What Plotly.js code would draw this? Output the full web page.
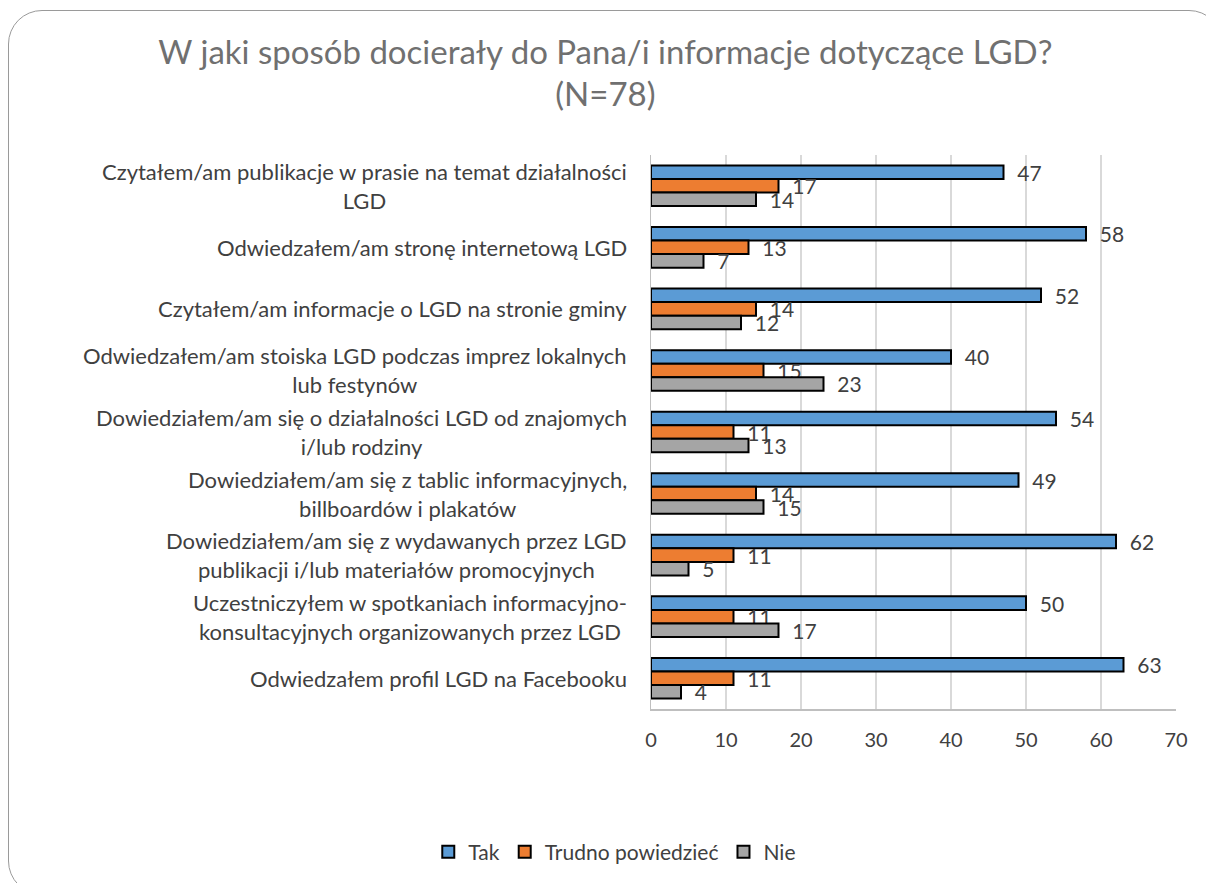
<!DOCTYPE html>
<html>
<head>
<meta charset="utf-8">
<script src="https://cdn.plot.ly/plotly-3.0.1.min.js"></script>
<style>
  html, body { margin: 0; padding: 0; background: #ffffff; }
  #wrap { position: relative; width: 1206px; height: 883px; overflow: hidden; }
  #chart { position: absolute; left: 0; top: 0; width: 1206px; height: 883px; }
  #frame { position: absolute; left: 8px; top: 10px; width: 1215px; height: 885px;
           border: 1.5px solid #9a9a9a; border-radius: 34px; pointer-events: none; box-sizing: border-box; }
</style>
</head>
<body>
<div id="wrap">
  <div id="chart"></div>
  <div id="frame"></div>
</div>
<script>
const categories = [
  "Czytałem/am publikacje w prasie na temat działalności<br>LGD",
  "Odwiedzałem/am stronę internetową LGD",
  "Czytałem/am informacje o LGD na stronie gminy",
  "Odwiedzałem/am stoiska LGD podczas imprez lokalnych<br>lub festynów",
  "Dowiedziałem/am się o działalności LGD od znajomych<br>i/lub rodziny",
  "Dowiedziałem/am się z tablic informacyjnych,<br>billboardów i plakatów",
  "Dowiedziałem/am się z wydawanych przez LGD<br>publikacji i/lub materiałów promocyjnych",
  "Uczestniczyłem w spotkaniach informacyjno-<br>konsultacyjnych organizowanych przez LGD",
  "Odwiedzałem profil LGD na Facebooku"
];
const seriesNames = ["Tak", "Trudno powiedzieć", "Nie"];
const tak = [47, 58, 52, 40, 54, 49, 62, 50, 63];
const trudno = [17, 13, 14, 15, 11, 14, 11, 11, 11];
const nie = [14, 7, 12, 23, 13, 15, 5, 17, 4];
const xTicks = [0, 10, 20, 30, 40, 50, 60, 70];
const colors = ["#5b9bd5", "#ed7d31", "#a5a5a5"];

const FONT = "Lato, 'Open Sans', sans-serif";
const seriesValues = [tak, trudno, nie];

const traces = seriesValues.map((vals, i) => ({
  type: "bar",
  orientation: "h",
  name: seriesNames[i],
  x: vals,
  y: categories,
  marker: { color: colors[i], line: { color: "#000000", width: 2 } },
  text: vals.map(v => "\u00a0\u00a0" + v),
  textposition: "outside",
  constraintext: "none",
  cliponaxis: false,
  textfont: { family: FONT, size: 21, color: "#404040" },
  hoverinfo: "x+name"
}));

const annotations = categories.map(c => ({
  text: c,
  xref: "paper", x: 0, xanchor: "right", xshift: -22,
  yref: "y", y: c, yanchor: "middle",
  align: "center", showarrow: false,
  font: { family: FONT, size: 22, color: "#404040" }
}));

const layout = {
  width: 1206, height: 883,
  paper_bgcolor: "rgba(0,0,0,0)",
  plot_bgcolor: "#ffffff",
  margin: { l: 651, r: 30, t: 155, b: 173, pad: 0 },
  title: {
    text: "W jaki sposób docierały do Pana/i informacje dotyczące LGD?<br>(N=78)",
    font: { family: FONT, size: 33, color: "#707070" },
    x: 0.502, xanchor: "center", y: 0.928, yanchor: "top"
  },
  barmode: "group",
  bargap: 0.34,
  bargroupgap: 0,
  showlegend: true,
  legend: {
    orientation: "h", x: -0.069, xanchor: "center", y: -0.256, yanchor: "middle",
    traceorder: "normal",
    font: { family: FONT, size: 21, color: "#404040" },
    itemwidth: 30
  },
  xaxis: {
    range: [0, 70],
    tickvals: xTicks,
    ticktext: xTicks.map(String),
    showgrid: true, gridcolor: "#d9d9d9", gridwidth: 1.5,
    zeroline: false,
    showline: true, linecolor: "#bfbfbf", linewidth: 1.5,
    ticks: "",
    ticklabelstandoff: 12,
    tickfont: { family: FONT, size: 20, color: "#404040" },
    fixedrange: true
  },
  yaxis: {
    autorange: "reversed",
    type: "category",
    showticklabels: false,
    showgrid: false,
    showline: true, linecolor: "#bfbfbf", linewidth: 1.5,
    ticks: "",
    fixedrange: true
  },
  annotations: annotations
};

Plotly.newPlot("chart", traces, layout, { displayModeBar: false, staticPlot: true });
</script>
</body>
</html>
